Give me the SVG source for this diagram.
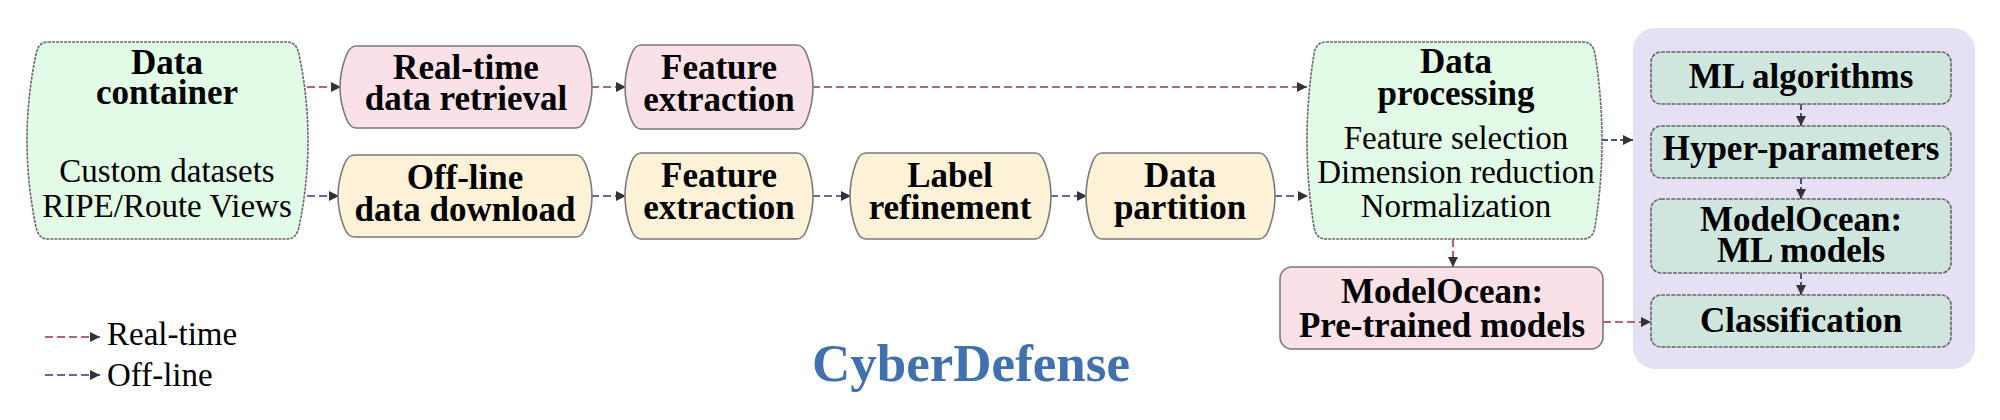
<svg xmlns="http://www.w3.org/2000/svg" width="2000" height="420" viewBox="0 0 2000 420">
<defs>
<style>
.b{font-family:"Liberation Serif","Times New Roman",serif;font-weight:bold;font-size:35px;text-anchor:middle;fill:#000}
.r{font-family:"Liberation Serif","Times New Roman",serif;font-size:33px;text-anchor:middle;fill:#000}
.l{font-family:"Liberation Serif","Times New Roman",serif;font-size:33px;text-anchor:start;fill:#000}
.green{fill:#e1fbe7;stroke:#6a6a6a;stroke-width:1.6;stroke-dasharray:3 1}
.pink{fill:#f9e1e7;stroke:#7a7a7a;stroke-width:1.6}
.yellow{fill:#fdf2d7;stroke:#7a7a7a;stroke-width:1.6}
.teal{fill:#cfe6df;stroke:#666;stroke-width:1.6;stroke-dasharray:4 1.2}
.red{fill:none;stroke:#b5656f;stroke-width:2.2;stroke-dasharray:8 4;marker-end:url(#ah)}
.blue{fill:none;stroke:#5c69b6;stroke-width:2.2;stroke-dasharray:8 4;marker-end:url(#ah)}
.dblue{fill:none;stroke:#4b4d95;stroke-width:2;stroke-dasharray:6 3;marker-end:url(#ah)}
.title{font-family:"Liberation Serif","Times New Roman",serif;font-weight:bold;font-size:53px;text-anchor:middle;fill:#4070ad}
</style>
<marker id="ah" markerUnits="userSpaceOnUse" markerWidth="10" markerHeight="10" refX="10" refY="5" orient="auto" viewBox="0 0 10 10">
<path d="M0,0 L10,5 L0,10 z" fill="#333"/>
</marker>
</defs>
<rect width="2000" height="420" fill="#fff"/>

<g id="panel-ml">
<rect x="1633" y="28" width="342" height="341" rx="22" fill="#e5e0f3"/>
</g>

<g id="connectors">
<line class="red" x1="307" y1="87" x2="341" y2="87"/>
<line class="red" x1="591" y1="87" x2="626" y2="87"/>
<line class="red" x1="812" y1="87" x2="1307" y2="87"/>
<line class="red" x1="1453" y1="239" x2="1453" y2="267"/>
<line class="red" x1="1603" y1="322" x2="1651" y2="322"/>
<line class="blue" x1="307" y1="196" x2="339" y2="196"/>
<line class="blue" x1="591" y1="196" x2="626" y2="196"/>
<line class="blue" x1="812" y1="196" x2="851" y2="196"/>
<line class="blue" x1="1050" y1="196" x2="1087" y2="196"/>
<line class="blue" x1="1274" y1="196" x2="1308" y2="196"/>
<line class="dblue" x1="1602" y1="140" x2="1633" y2="140"/>
<line class="dblue" x1="1801" y1="104" x2="1801" y2="126"/>
<line class="dblue" x1="1801" y1="178" x2="1801" y2="199"/>
<line class="dblue" x1="1801" y1="273" x2="1801" y2="295"/>
</g>

<g id="data-container">
<path class="green" d="M48,42 H287 Q296.5,42 299,54 C311,111.67 311,169.33 299,227 Q296.5,239 287,239 H48 Q38.5,239 36,227 C24,169.33 24,111.67 36,54 Q38.5,42 48,42 Z"/>
<text class="b" x="167" y="74">Data</text>
<text class="b" x="167" y="104">container</text>
<text class="r" x="167" y="182">Custom datasets</text>
<text class="r" x="167" y="217">RIPE/Route Views</text>
</g>

<g id="realtime-retrieval">
<path class="pink" d="M356,46 H576 Q582.13,46 586,56 C594,76.67 594,97.33 586,118 Q582.13,128 576,128 H356 Q349.87,128 346,118 C338,97.33 338,76.67 346,56 Q349.87,46 356,46 Z"/>
<text class="b" x="466" y="79">Real-time</text>
<text class="b" x="466" y="110">data retrieval</text>
</g>

<g id="feature-extraction-rt">
<path class="pink" d="M641,45 H797 Q803.25,45 807,55 C815,76.33 815,97.67 807,119 Q803.25,129 797,129 H641 Q634.75,129 631,119 C623,97.67 623,76.33 631,55 Q634.75,45 641,45 Z"/>
<text class="b" x="719" y="79">Feature</text>
<text class="b" x="719" y="111">extraction</text>
</g>

<g id="offline-download">
<path class="yellow" d="M354,155 H576 Q582.13,155 586,165 C594,185.67 594,206.33 586,227 Q582.13,237 576,237 H354 Q347.87,237 344,227 C336,206.33 336,185.67 344,165 Q347.87,155 354,155 Z"/>
<text class="b" x="465" y="189">Off-line</text>
<text class="b" x="465" y="221">data download</text>
</g>

<g id="feature-extraction-off">
<path class="yellow" d="M641,153 H797 Q803.36,153 807,163 C815,185 815,207 807,229 Q803.36,239 797,239 H641 Q634.64,239 631,229 C623,207 623,185 631,163 Q634.64,153 641,153 Z"/>
<text class="b" x="719" y="187">Feature</text>
<text class="b" x="719" y="219">extraction</text>
</g>

<g id="label-refinement">
<path class="yellow" d="M866,153 H1035 Q1041.36,153 1045,163 C1053,185 1053,207 1045,229 Q1041.36,239 1035,239 H866 Q859.64,239 856,229 C848,207 848,185 856,163 Q859.64,153 866,153 Z"/>
<text class="b" x="950" y="187">Label</text>
<text class="b" x="950" y="219">refinement</text>
</g>

<g id="data-partition">
<path class="yellow" d="M1102,153 H1259 Q1265.36,153 1269,163 C1277,185 1277,207 1269,229 Q1265.36,239 1259,239 H1102 Q1095.64,239 1092,229 C1084,207 1084,185 1092,163 Q1095.64,153 1102,153 Z"/>
<text class="b" x="1180" y="187">Data</text>
<text class="b" x="1180" y="219">partition</text>
</g>

<g id="data-processing">
<path class="green" d="M1326,42 H1583 Q1593.06,42 1595,54 C1604.33,111.67 1604.33,169.33 1595,227 Q1593.06,239 1583,239 H1326 Q1315.94,239 1314,227 C1304.67,169.33 1304.67,111.67 1314,54 Q1315.94,42 1326,42 Z"/>
<text class="b" x="1456" y="73">Data</text>
<text class="b" x="1456" y="105">processing</text>
<text class="r" x="1456" y="149">Feature selection</text>
<text class="r" x="1456" y="183">Dimension reduction</text>
<text class="r" x="1456" y="217">Normalization</text>
</g>

<g id="pretrained-models">
<rect class="pink" x="1280" y="267" width="323" height="82" rx="12"/>
<text class="b" x="1442" y="303">ModelOcean:</text>
<text class="b" x="1442" y="337">Pre-trained models</text>
</g>

<g id="ml-algorithms">
<rect class="teal" x="1651" y="52" width="300" height="52" rx="10"/>
<text class="b" x="1801" y="88">ML algorithms</text>
</g>

<g id="hyper-parameters">
<rect class="teal" x="1651" y="126" width="300" height="52" rx="10"/>
<text class="b" x="1801" y="160">Hyper-parameters</text>
</g>

<g id="ml-models">
<rect class="teal" x="1651" y="199" width="300" height="74" rx="10"/>
<text class="b" x="1801" y="231">ModelOcean:</text>
<text class="b" x="1801" y="262">ML models</text>
</g>

<g id="classification">
<rect class="teal" x="1651" y="295" width="300" height="52" rx="10"/>
<text class="b" x="1801" y="332">Classification</text>
</g>

<g id="legend">
<line class="red" x1="45" y1="337" x2="100" y2="337"/>
<text class="l" x="107" y="345">Real-time</text>
<line class="blue" x1="45" y1="375" x2="100" y2="375"/>
<text class="l" x="107" y="386">Off-line</text>
</g>

<g id="title">
<text class="title" x="971" y="381">CyberDefense</text>
</g>
</svg>
